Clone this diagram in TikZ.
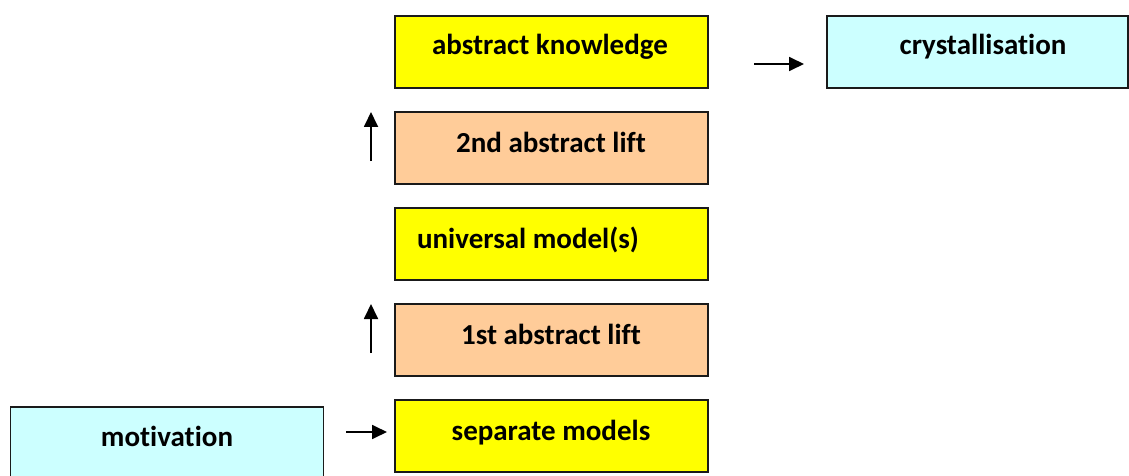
\documentclass[tikz,border=0pt]{standalone}
\usepackage{fontspec}
\setmainfont{Carlito}[Ligatures={NoCommon}]
\usetikzlibrary{arrows.meta}
\definecolor{boxyellow}{HTML}{FFFF00}
\definecolor{boxpeach}{HTML}{FFCC99}
\definecolor{boxcyan}{HTML}{CCFFFF}
\definecolor{boxline}{HTML}{1A1A1A}
\tikzset{
  stage/.style={draw=boxline, line width=1.3pt, minimum width=313pt, minimum height=72pt,
    inner sep=0pt, outer sep=0pt},
  label/.style={font=\bfseries\fontsize{29}{34}\selectfont, inner sep=0pt, anchor=base},
  flow/.style={-{Triangle[length=15pt,width=14pt]}, line width=1.8pt, black},
}
\begin{document}
\begin{tikzpicture}[x=1pt,y=-1pt]
  \useasboundingbox (0,0) rectangle (1129,476);
  % boxes (centre coordinates)
  \node[stage, fill=boxyellow] (know)  at (551.5,52)  {};
  \node[stage, fill=boxcyan, minimum width=301pt] (cryst) at (977.5,52) {};
  \node[stage, fill=boxpeach]  (lift2) at (551.5,148) {};
  \node[stage, fill=boxyellow] (univ)  at (551.5,244) {};
  \node[stage, fill=boxpeach]  (lift1) at (551.5,340) {};
  \node[stage, fill=boxyellow] (sep)   at (551.5,436) {};
  \node[stage, fill=boxcyan, minimum height=80pt] (motiv) at (167,447) {};
  % texts
  \node[label] (tknow)  at (550,55)  {abstract knowledge};
  \node[label] (tcryst) at (983,55)  {crystallisation};
  \node[label] (tlift2) at (551,152) {2nd abstract lift};
  \node[label] (tuniv)  at (528,248) {universal model(s)};
  \node[label] (tlift1) at (551,344) {1st abstract lift};
  \node[label] (tsep)   at (551,440) {separate models};
  \node[label] (tmotiv) at (167,446) {motivation};
  % free-standing arrows
  \coordinate (a1s) at (371,161); \coordinate (a1e) at (371,112);
  \coordinate (a2s) at (371,353); \coordinate (a2e) at (371,304);
  \coordinate (a3s) at (754,64);  \coordinate (a3e) at (804,64);
  \coordinate (a4s) at (346,432); \coordinate (a4e) at (387,432);
  \draw[flow] (a1s) -- (a1e);
  \draw[flow] (a2s) -- (a2e);
  \draw[flow] (a3s) -- (a3e);
  \draw[flow] (a4s) -- (a4e);
\end{tikzpicture}
\end{document}
